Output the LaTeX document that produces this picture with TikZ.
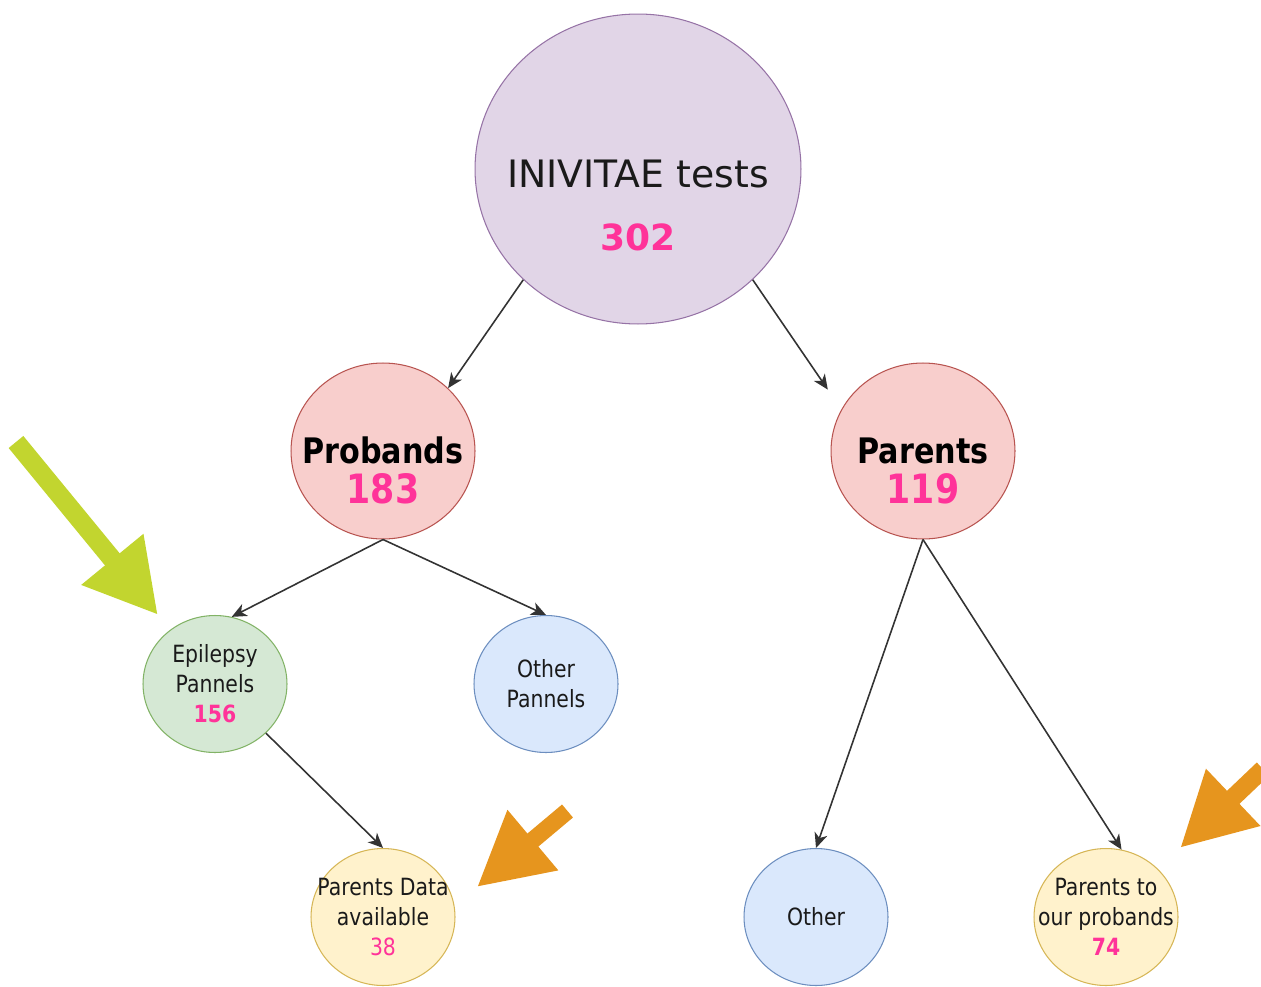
\documentclass[tikz,border=0pt]{standalone}
\usepackage{fontspec}
\setmainfont{DejaVu Sans}
\newfontfamily\narrowfont{DejaVu Sans}[FakeStretch=0.86]
\usetikzlibrary{shapes.geometric,arrows.meta}
\definecolor{purpfill}{HTML}{E1D5E7}
\definecolor{purpline}{HTML}{9673A6}
\definecolor{redfill}{HTML}{F8CECC}
\definecolor{redline}{HTML}{B85450}
\definecolor{greenfill}{HTML}{D5E8D4}
\definecolor{greenline}{HTML}{82B366}
\definecolor{bluefill}{HTML}{DAE8FC}
\definecolor{blueline}{HTML}{6C8EBF}
\definecolor{yelfill}{HTML}{FFF2CC}
\definecolor{yelline}{HTML}{D6B656}
\definecolor{numpink}{HTML}{FF3399}
\definecolor{limearrow}{HTML}{C2D52F}
\definecolor{orangearrow}{HTML}{E6951E}
\definecolor{connline}{HTML}{333333}
\definecolor{txt}{HTML}{1A1A1A}
\begin{document}
\begin{tikzpicture}[x=0.02cm,y=-0.02cm,
  bubble/.style={ellipse, line width=0.6pt, inner sep=0pt, text=txt},
  bigbub/.style={bubble, fill=purpfill, draw=purpline, minimum width=6.52cm, minimum height=6.2cm},
  midbub/.style={bubble, fill=redfill, draw=redline, minimum width=3.68cm, minimum height=3.52cm},
  smallbub/.style={bubble, inner xsep=-0.45cm, minimum width=2.88cm, minimum height=2.74cm, align=center,
    font=\narrowfont\fontsize{13.5}{17}\selectfont},
  greenbub/.style={smallbub, fill=greenfill, draw=greenline},
  bluebub/.style={smallbub, fill=bluefill, draw=blueline},
  yelbub/.style={smallbub, fill=yelfill, draw=yelline},
  titletxt/.style={anchor=base, text=txt, inner sep=0pt},
  conn/.style={draw=connline, line width=0.9pt, -{Stealth[length=8.5pt,width=7.5pt,inset=2.5pt]}},
  bigarrow/.style={line cap=butt}
]
\useasboundingbox (0,0) rectangle (1261,987);

% circles
\node[bigbub] (top) at (638,169) {};
\node[midbub] (probands) at (383,451) {};
\node[midbub] (parents) at (923,451) {};
\node[greenbub] (epilepsy) at (215,684) {Epilepsy\\Pannels\\{\bfseries\color{numpink}156}};
\node[bluebub] (otherp) at (546,684) {Other\\Pannels};
\node[yelbub] (pdata) at (383,917) {Parents Data\\available\\{\color{numpink}38}};
\node[bluebub] (other) at (816,917) {Other};
\node[yelbub] (pprob) at (1106,917) {Parents to\\our probands\\{\bfseries\color{numpink}74}};

% texts in the larger circles
\node[titletxt, font=\fontsize{21.5}{24}\selectfont] (toptitle) at (638,187) {INIVITAE tests};
\node[titletxt, font=\bfseries\fontsize{20.5}{24}\selectfont, text=numpink] (topnum) at (638,250) {302};
\node[titletxt, font=\narrowfont\bfseries\fontsize{20}{24}\selectfont, text=black] (probtitle) at (383,463) {Probands};
\node[titletxt, font=\narrowfont\bfseries\fontsize{23}{26}\selectfont, text=numpink] (probnum) at (383,503) {183};
\node[titletxt, font=\narrowfont\bfseries\fontsize{20}{24}\selectfont, text=black] (partitle) at (923,463) {Parents};
\node[titletxt, font=\narrowfont\bfseries\fontsize{23}{26}\selectfont, text=numpink] (parnum) at (923,503) {119};

% connectors
\draw[conn] (top.224) -- (probands.44);
\draw[conn, shorten >=0.48cm] (top.316) -- (parents.153);
\draw[conn] (probands.south) -- (epilepsy.76);
\draw[conn] (probands.south) -- (otherp.north);
\draw[conn] (epilepsy.-44) -- (pdata.north);
\draw[conn] (parents.south) -- (other.north);
\draw[conn] (parents.south) -- (pprob.77);

% highlight arrows
\coordinate (g0) at (16,442);
\coordinate (g1) at (158,615);
\coordinate (o0) at (567.5,811);
\coordinate (o1) at (477,887);
\coordinate (q0) at (1263,769);
\coordinate (q1) at (1180,848);
\draw[bigarrow, draw=limearrow, line width=0.38cm, -{Triangle[length=1.44cm,width=1.5cm]}] (g0) -- (g1);
\draw[bigarrow, draw=orangearrow, line width=0.34cm, -{Triangle[length=1.46cm,width=1.48cm]}] (o0) -- (o1);
\draw[bigarrow, draw=orangearrow, line width=0.36cm, -{Triangle[length=1.47cm,width=1.47cm]}] (q0) -- (q1);
\end{tikzpicture}
\end{document}
